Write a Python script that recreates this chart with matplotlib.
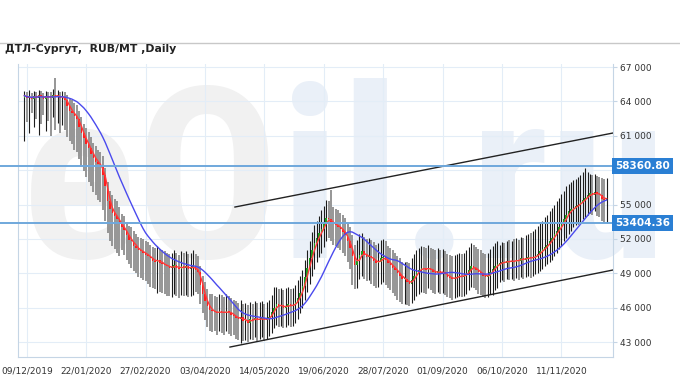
import matplotlib
matplotlib.use("Agg")
import matplotlib.pyplot as plt
import matplotlib.transforms as mtrans
from matplotlib.lines import Line2D
from matplotlib import font_manager as fm
from matplotlib.ticker import FuncFormatter
import numpy as np
import pandas as pd

# ---------------- data (prices in hundreds of RUB) ----------------
opens = [
    643,645,643,644,642,645,643,646,644,642,
    645,644,643,646,644,645,643,644,641,636,
    632,630,627,625,618,612,608,603,599,594,
    591,587,585,583,576,566,553,546,543,540,
    537,533,530,528,523,519,518,514,512,510,
    509,508,506,505,503,501,500,502,499,498,
    497,496,495,495,497,495,494,496,495,496,
    494,495,496,493,491,480,472,466,461,458,
    457,456,455,457,456,455,457,456,454,453,
    451,450,452,448,449,447,450,449,451,449,
    450,451,449,450,452,456,460,463,461,462,
    460,461,463,461,462,465,468,473,479,487,
    495,503,510,516,521,525,529,533,538,537,
    534,533,532,530,529,526,523,518,512,505,
    497,501,506,509,506,504,505,503,501,499,
    500,503,504,502,499,497,495,493,490,488,
    485,485,482,481,484,488,491,493,495,494,
    493,495,493,491,490,492,490,491,489,487,
    486,485,486,487,488,487,488,490,493,496,
    495,493,491,490,488,487,488,491,494,496,
    498,499,500,499,501,500,501,500,502,501,
    503,502,503,504,503,504,505,507,509,511,
    513,515,518,521,524,527,530,533,537,541,
    544,546,547,549,550,552,554,556,558,560,
    558,561,559,558,555,554,
]
highs = [
    649,648,650,647,649,648,650,649,647,649,
    648,648,651,660,650,648,649,648,646,643,
    641,639,637,632,626,620,617,613,609,604,
    601,598,596,592,582,570,562,558,555,553,
    548,542,540,535,531,530,527,524,522,521,
    520,518,517,515,513,512,514,511,510,509,
    508,507,508,510,508,506,509,508,509,507,
    508,510,507,505,496,488,482,476,472,472,
    470,469,472,471,469,472,470,468,467,466,
    464,467,463,464,462,465,463,466,464,465,
    466,463,465,467,471,478,478,476,477,475,
    477,478,476,477,480,484,488,493,502,510,
    518,526,532,536,540,545,549,554,553,563,
    548,546,545,543,541,538,535,530,523,515,
    519,524,525,522,520,521,519,517,515,516,
    519,520,518,514,512,510,508,505,503,500,
    500,500,499,503,507,510,512,514,513,512,
    515,512,511,510,512,510,511,509,507,506,
    505,506,507,508,507,508,510,513,516,515,
    513,511,510,508,507,508,511,514,516,518,
    515,517,516,518,519,518,520,521,519,522,
    521,523,524,525,527,529,531,534,536,539,
    541,544,547,550,553,556,559,562,566,568,
    570,571,572,574,576,578,582,578,577,576,
    577,575,574,573,572,573,
]
lows = [
    605,622,612,630,618,625,611,620,628,614,
    623,610,626,615,621,612,619,615,609,605,
    603,598,596,590,583,579,574,570,566,561,
    558,554,552,545,536,525,518,514,511,508,
    505,510,506,502,498,495,492,490,487,486,
    484,483,481,478,477,476,473,474,473,472,
    470,470,469,472,470,468,471,470,471,469,
    470,471,474,472,463,455,449,443,440,439,
    440,436,440,438,436,440,437,435,436,433,
    432,429,431,432,430,433,432,434,431,433,
    434,431,433,435,438,442,445,443,444,442,
    443,445,443,444,447,450,455,460,467,474,
    481,488,494,500,504,508,513,518,521,518,
    515,514,512,510,508,505,500,494,480,476,
    477,485,488,485,483,484,481,479,477,478,
    481,482,480,477,475,473,470,467,465,463,
    463,462,461,464,467,470,472,474,473,472,
    477,475,473,472,474,472,473,471,469,468,
    467,468,469,470,469,470,472,475,478,477,
    475,472,471,469,468,469,472,471,475,477,
    482,484,482,485,484,485,483,486,484,487,
    485,487,488,486,488,489,490,492,494,496,
    498,500,502,505,508,511,514,518,521,524,
    527,530,532,533,535,537,539,541,543,541,
    544,540,539,536,534,534,
]
closes = [
    645,643,644,642,645,643,646,644,642,645,
    644,643,646,644,645,643,644,641,636,632,
    630,627,625,618,612,608,603,599,594,591,
    587,585,583,576,566,553,546,543,540,537,
    533,530,528,523,519,518,514,512,510,509,
    508,506,505,503,501,500,502,499,498,497,
    496,495,495,497,495,494,496,495,496,494,
    495,496,493,491,480,472,466,461,458,457,
    456,455,457,456,455,457,456,454,453,451,
    450,452,448,449,447,450,449,451,449,450,
    451,449,450,452,456,460,463,461,462,460,
    461,463,461,462,465,468,473,479,487,495,
    503,510,516,521,525,529,533,538,537,534,
    533,532,530,529,526,523,518,512,505,497,
    501,506,509,506,504,505,503,501,499,500,
    503,504,502,499,497,495,493,490,488,485,
    485,482,481,484,488,491,493,495,494,493,
    495,493,491,490,492,490,491,489,487,486,
    485,486,487,488,487,488,490,493,496,495,
    493,491,490,488,487,488,491,494,496,498,
    499,500,499,501,500,501,500,502,501,503,
    502,503,504,503,504,505,507,509,511,513,
    515,518,521,524,527,530,533,537,541,544,
    546,547,549,550,552,554,556,558,560,558,
    561,559,558,555,554,556,
]
date_labels = ["09/12/2019", "22/01/2020", "27/02/2020", "03/04/2020", "14/05/2020",
               "19/06/2020", "28/07/2020", "01/09/2020", "06/10/2020", "11/11/2020"]
date_tick_index = [1, 26, 51, 76, 101, 126, 151, 176, 201, 226]
levels = [58360.80, 53404.36]
trend_upper_idx = [88.6, 247.7]
trend_upper_val = [54780, 61240]
trend_lower_idx = [86.5, 247.7]
trend_lower_val = [42560, 49285]
title = "ДТЛ-Сургут,  RUB/MT ,Daily"
fast_period = 3
slow_period = 17

# ---------------- figure ----------------
W, H = 680, 380
fig = plt.figure(figsize=(W / 100, H / 100), dpi=100)
fig.patch.set_facecolor("white")
ax = fig.add_axes([18 / W, (H - 357) / H, (613 - 18) / W, (357 - 64) / H])
ax.set_facecolor("none")

o = np.array(opens, float) * 100
h = np.array(highs, float) * 100
l = np.array(lows, float) * 100
c = np.array(closes, float) * 100
x = np.arange(len(c))
up = c >= o

ax.vlines(x[~up], l[~up], h[~up], color="#8e8e8e", lw=1.3, zorder=2)
ax.vlines(x[up], l[up], h[up], color="#1c1c1c", lw=0.8, zorder=2)
body = np.maximum(np.abs(c - o), 60)
ax.bar(x, body, bottom=np.minimum(o, c), width=0.62,
       color=np.where(up, "#1e9e1e", "#ff1c1c"), lw=0, zorder=3)

fast = pd.Series(c).rolling(fast_period, min_periods=1).mean()
slow = pd.Series(c).rolling(slow_period, min_periods=1).mean()
ax.plot(x, fast, color="#ff3a3a", lw=1.0, zorder=4)
ax.plot(x, slow, color="#4a4aee", lw=1.0, zorder=4)

ax.plot(trend_upper_idx, trend_upper_val, color="#222222", lw=1.0, zorder=4)
ax.plot(trend_lower_idx, trend_lower_val, color="#222222", lw=1.0, zorder=4)

ax.set_xlim(-2.7, 247.7)
ax.set_ylim(41692, 67262)

ax.yaxis.tick_right()
ax.set_yticks(np.arange(43000, 67001, 3000))
ax.yaxis.set_major_formatter(FuncFormatter(lambda v, p: f"{int(v):,}".replace(",", " ")))
ax.tick_params(axis="y", labelsize=6.5, labelcolor="#333333", length=3, color="#c5d5e5", pad=2)
ax.set_xticks(date_tick_index)
ax.set_xticklabels(date_labels)
ax.tick_params(axis="x", labelsize=6.5, labelcolor="#333333", length=0, pad=7)

ax.grid(color="#e3edf7", lw=0.8)
ax.set_axisbelow(True)
for s in ["left", "bottom", "right"]:
    ax.spines[s].set_color("#c5d5e5")
ax.spines["top"].set_visible(False)

blend = mtrans.blended_transform_factory(ax.transAxes, ax.transData)
for lvl in levels:
    ax.plot([-0.035, 1.0], [lvl, lvl], transform=blend, color="#6fa8dc", lw=1.4,
            clip_on=False, zorder=5)
    ax.text(1.003, lvl, f"{lvl:.2f}", transform=blend, ha="left", va="center",
            color="white", fontsize=7.5, fontweight="bold", zorder=6, clip_on=False,
            bbox=dict(boxstyle="square,pad=0.3", fc="#2a7fd4", ec="none"))

# title and separator
fig.add_artist(Line2D([0, 1], [1 - 43 / H] * 2, transform=fig.transFigure,
                      color="#c8c8c8", lw=1))
fig.text(5 / W, 1 - 49 / H, title, fontsize=7.8, fontweight="bold",
         color="#222222", va="center", ha="left")

# watermark
def pick_font(names):
    for n in names:
        try:
            fm.findfont(fm.FontProperties(family=n), fallback_to_default=False)
            return n
        except Exception:
            pass
    return "DejaVu Sans"

wm_font = pick_font(["Liberation Sans Narrow", "Roboto Condensed", "Liberation Sans"])
t1 = fig.text(22 / W, 122 / H, "eO", fontsize=150, fontweight="bold", family=wm_font,
              color="#f1f1f1", va="baseline", ha="left", zorder=-1)
t2 = fig.text(0, 122 / H, "il.ru", fontsize=150, fontweight="bold", family=wm_font,
              color="#eaf0f8", va="baseline", ha="left", zorder=-1)
fig.canvas.draw()
r = fig.canvas.get_renderer()
w_total = t1.get_window_extent(r).width + t2.get_window_extent(r).width
scale = 645 / w_total
t1.set_fontsize(150 * scale)
t2.set_fontsize(150 * scale)
fig.canvas.draw()
bb = t1.get_window_extent(r)
t2.set_x(bb.x1 / W)

fig.savefig("out.png", dpi=100)
